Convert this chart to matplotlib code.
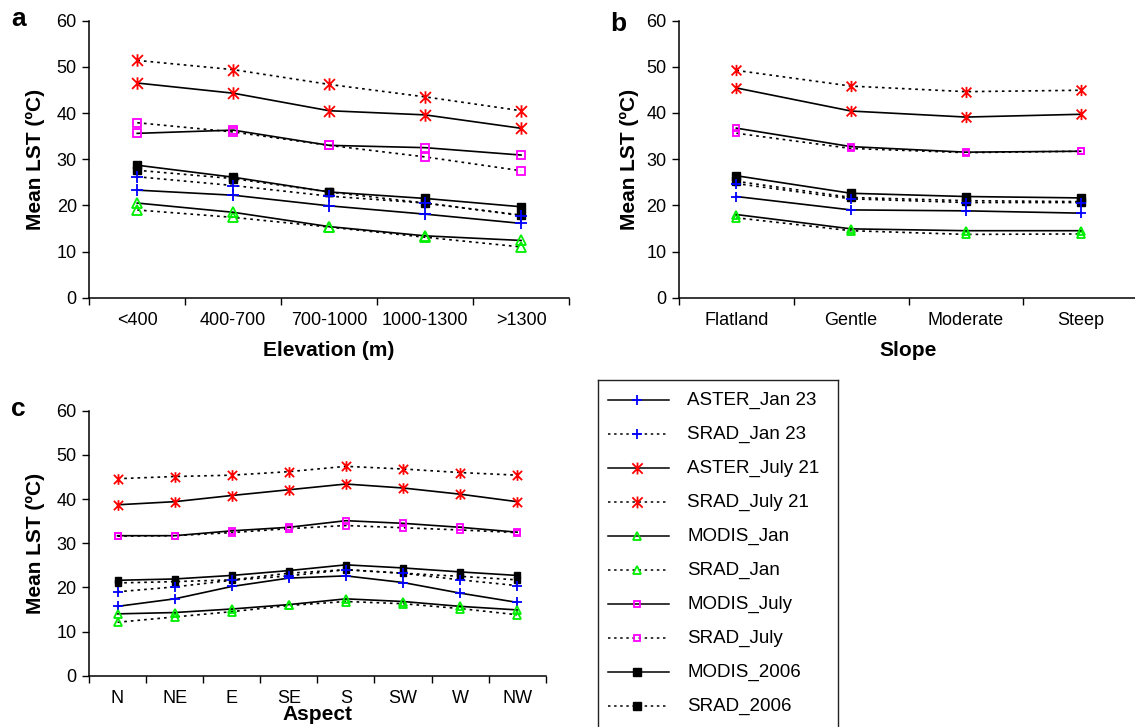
import matplotlib
matplotlib.use("Agg")
import matplotlib.pyplot as plt
from matplotlib.path import Path
from matplotlib.lines import Line2D

plt.rcParams['font.family'] = ['Liberation Sans', 'DejaVu Sans']

# ---------------- data ----------------
series_labels = ['ASTER_Jan 23', 'SRAD_Jan 23', 'ASTER_July 21', 'SRAD_July 21',
                 'MODIS_Jan', 'SRAD_Jan', 'MODIS_July', 'SRAD_July',
                 'MODIS_2006', 'SRAD_2006']

elev_cats = ['<400', '400-700', '700-1000', '1000-1300', '>1300']
elev_aster_jan23 = [23.3, 22.2, 19.9, 18.1, 16.1]
elev_srad_jan23 = [26.2, 24.3, 22.0, 20.5, 17.8]
elev_aster_jul21 = [46.5, 44.3, 40.5, 39.6, 36.7]
elev_srad_jul21 = [51.4, 49.4, 46.2, 43.5, 40.5]
elev_modis_jan = [20.5, 18.5, 15.4, 13.4, 12.4]
elev_srad_jan = [19.0, 17.4, 15.3, 13.1, 11.0]
elev_modis_jul = [35.6, 36.3, 33.0, 32.5, 30.9]
elev_srad_jul = [37.9, 35.9, 33.0, 30.5, 27.5]
elev_modis_2006 = [28.7, 26.1, 22.9, 21.5, 19.7]
elev_srad_2006 = [27.6, 25.8, 22.9, 20.5, 17.9]

slope_cats = ['Flatland', 'Gentle', 'Moderate', 'Steep']
slope_aster_jan23 = [21.9, 19.0, 18.8, 18.3]
slope_srad_jan23 = [24.7, 21.4, 20.6, 20.6]
slope_aster_jul21 = [45.4, 40.4, 39.1, 39.7]
slope_srad_jul21 = [49.2, 45.8, 44.6, 44.9]
slope_modis_jan = [18.0, 14.9, 14.5, 14.5]
slope_srad_jan = [17.3, 14.5, 13.7, 13.8]
slope_modis_jul = [36.7, 32.7, 31.5, 31.7]
slope_srad_jul = [35.6, 32.3, 31.4, 31.7]
slope_modis_2006 = [26.4, 22.6, 21.9, 21.6]
slope_srad_2006 = [25.2, 21.7, 21.0, 20.8]

aspect_cats = ['N', 'NE', 'E', 'SE', 'S', 'SW', 'W', 'NW']
aspect_aster_jan23 = [15.7, 17.4, 20.2, 22.1, 22.6, 21.1, 18.7, 16.6]
aspect_srad_jan23 = [19.0, 20.1, 21.6, 22.6, 24.0, 23.2, 21.7, 20.4]
aspect_aster_jul21 = [38.7, 39.4, 40.8, 42.1, 43.4, 42.5, 41.1, 39.4]
aspect_srad_jul21 = [44.6, 45.1, 45.4, 46.2, 47.4, 46.8, 46.0, 45.4]
aspect_modis_jan = [14.0, 14.3, 15.1, 16.1, 17.4, 16.8, 15.7, 14.9]
aspect_srad_jan = [12.1, 13.3, 14.5, 15.9, 16.8, 16.3, 15.2, 13.8]
aspect_modis_jul = [31.7, 31.7, 32.8, 33.6, 35.1, 34.5, 33.6, 32.5]
aspect_srad_jul = [31.6, 31.7, 32.4, 33.3, 34.0, 33.5, 33.0, 32.4]
aspect_modis_2006 = [21.6, 21.9, 22.7, 23.8, 25.1, 24.4, 23.5, 22.7]
aspect_srad_2006 = [21.0, 21.3, 21.7, 23.2, 24.0, 23.2, 22.5, 21.7]

y_ticks = [0, 10, 20, 30, 40, 50, 60]

elev_series = [elev_aster_jan23, elev_srad_jan23, elev_aster_jul21, elev_srad_jul21,
               elev_modis_jan, elev_srad_jan, elev_modis_jul, elev_srad_jul,
               elev_modis_2006, elev_srad_2006]
slope_series = [slope_aster_jan23, slope_srad_jan23, slope_aster_jul21, slope_srad_jul21,
                slope_modis_jan, slope_srad_jan, slope_modis_jul, slope_srad_jul,
                slope_modis_2006, slope_srad_2006]
aspect_series = [aspect_aster_jan23, aspect_srad_jan23, aspect_aster_jul21, aspect_srad_jul21,
                 aspect_modis_jan, aspect_srad_jan, aspect_modis_jul, aspect_srad_jul,
                 aspect_modis_2006, aspect_srad_2006]

# ---------------- styles ----------------
star = Path([(-1, -1), (1, 1), (-1, 1), (1, -1), (0, -1.15), (0, 1.15)],
            [Path.MOVETO, Path.LINETO, Path.MOVETO, Path.LINETO, Path.MOVETO, Path.LINETO])
DOT = (0, (1.6, 2.4))

def style(i, scale):
    solid = (i % 2 == 0)
    kind = i // 2
    ls = '-' if solid else DOT
    lw = 1.2
    if kind == 0:
        m = dict(marker='+', markersize=8 * scale, markeredgecolor='#0000FF',
                 markeredgewidth=1.3)
    elif kind == 1:
        m = dict(marker=star, markersize=9 * scale, markeredgecolor='#FF0000',
                 markerfacecolor='none', markeredgewidth=1.3)
    elif kind == 2:
        m = dict(marker='^', markersize=6.5 * scale, markeredgecolor='#00EE00',
                 markerfacecolor='none', markeredgewidth=1.3)
    elif kind == 3:
        m = dict(marker='s', markersize=5.3 * scale, markeredgecolor='#FF00FF',
                 markerfacecolor='none', markeredgewidth=1.3)
    else:
        m = dict(marker='s', markersize=5.8 * scale, markeredgecolor='black',
                 markerfacecolor='black', markeredgewidth=1.0)
    return dict(color='black', linestyle=ls, linewidth=lw, **m)

W, H = 1135, 727
fig = plt.figure(figsize=(W / 100, H / 100), dpi=100)

def px_axes(l, r, t, b):
    return fig.add_axes([l / W, 1 - b / H, (r - l) / W, (b - t) / H])

def setup(ax, cats, series, scale, xlabel, letter, letter_xy, ylab_x, xlab_y):
    x = list(range(len(cats)))
    order = [9, 8, 1, 0, 5, 4, 7, 6, 3, 2]
    for i in order:
        ax.plot(x, series[i], clip_on=False, zorder=3, **style(i, scale))
    ax.set_xlim(-0.5, len(cats) - 0.5)
    ax.set_ylim(0, 60)
    ax.set_yticks(y_ticks)
    ax.set_xticks(x)
    ax.set_xticklabels(cats)
    ax.set_xticks([k - 0.5 for k in range(len(cats) + 1)], minor=True)
    ax.tick_params(axis='x', which='major', length=0, pad=10, labelsize=13)
    ax.tick_params(axis='x', which='minor', length=5, width=1, direction='out')
    ax.tick_params(axis='y', length=5, width=1, direction='out', pad=4, labelsize=13)
    for s in ['top', 'right']:
        ax.spines[s].set_visible(False)
    for s in ['left', 'bottom']:
        ax.spines[s].set_linewidth(1.1)
    ax.text(ylab_x, 0.5, 'Mean LST (\u00baC)', rotation=90, ha='center', va='center',
            fontsize=15, fontweight='bold', transform=ax.transAxes)
    ax.text(0.5, xlab_y, xlabel, ha='center', va='baseline', fontsize=15,
            fontweight='bold', transform=ax.transAxes)
    fig.text(letter_xy[0] / W, 1 - letter_xy[1] / H, letter, fontsize=19,
             fontweight='bold', ha='left', va='baseline')

ax_a = px_axes(89.3, 569, 20.7, 297.7)
setup(ax_a, elev_cats, elev_series, 1.0, 'Elevation (m)', 'a', (11, 26), -0.113, -0.21)

ax_b = px_axes(679, 1138, 20.5, 297.7)
setup(ax_b, slope_cats, slope_series, 0.9, 'Slope', 'b', (610, 31), -0.109, -0.21)

ax_c = px_axes(89, 545.7, 410.7, 675.7)
setup(ax_c, aspect_cats, aspect_series, 0.85, 'Aspect', 'c', (11, 416), -0.118, -0.168)

# ---------------- legend ----------------
lg_l, lg_r, lg_t, lg_b = 597.7, 838.3, 380, 760
ax_l = px_axes(lg_l, lg_r, lg_t, lg_b)
ax_l.set_xlim(lg_l, lg_r)
ax_l.set_ylim(lg_b, lg_t)
ax_l.set_xticks([])
ax_l.set_yticks([])
for s in ax_l.spines.values():
    s.set_linewidth(1.0)
    s.set_color('#222222')
row0, row_step = 400, 34.0
for i, lab in enumerate(series_labels):
    yy = row0 + i * row_step
    st = style(i, 0.95)
    mk = {k: v for k, v in st.items() if k.startswith('marker')}
    ax_l.add_line(Line2D([607.7, 669], [yy, yy], color='black',
                         linestyle=st['linestyle'], linewidth=1.1))
    ax_l.add_line(Line2D([637], [yy], linestyle='none', **mk))
    ax_l.text(687.5, yy, lab, fontsize=13.5, ha='left', va='center')

fig.savefig('out.png', dpi=100)
